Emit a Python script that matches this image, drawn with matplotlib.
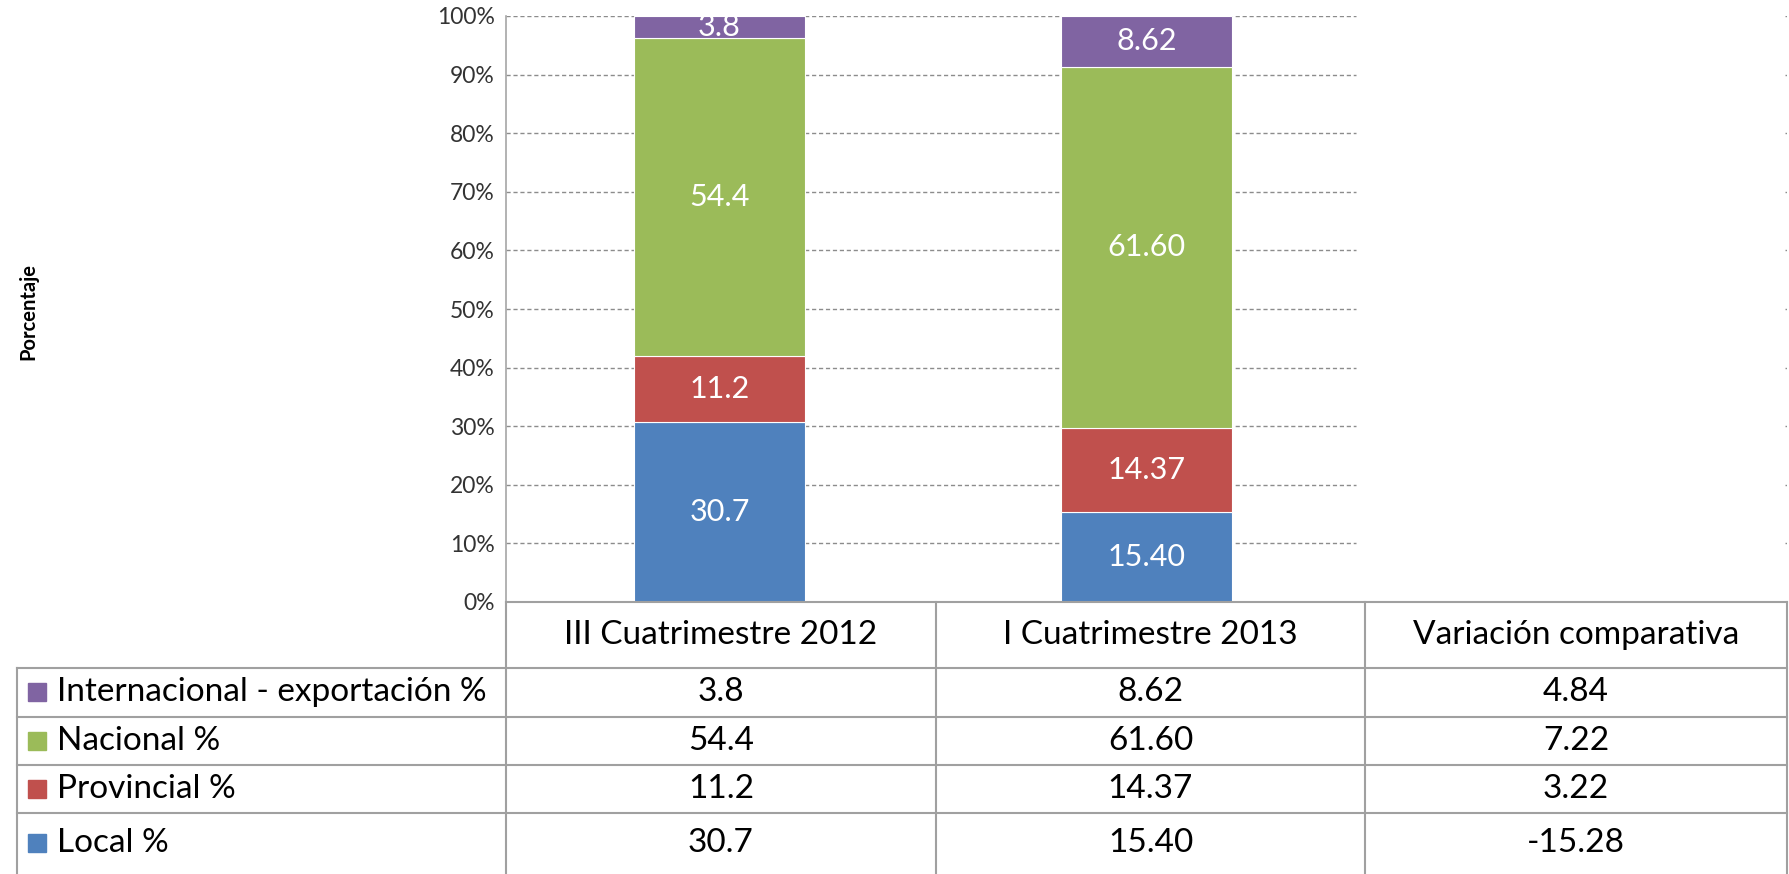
import matplotlib.pyplot as plt
from matplotlib.patches import Rectangle
from matplotlib.lines import Line2D

plt.rcParams['font.family'] = ['Lato', 'DejaVu Sans']

# data
periods = ["III Cuatrimestre 2012", "I Cuatrimestre 2013", "Variación comparativa"]
series = ["Local %", "Provincial %", "Nacional %", "Internacional - exportación %"]
local = [30.7, 15.40]
provincial = [11.2, 14.37]
nacional = [54.4, 61.60]
internacional = [3.8, 8.62]
variacion = [-15.28, 3.22, 7.22, 4.84]
decimals = [1, 2, 2]
colors = ["#4F81BD", "#C0504D", "#9BBB59", "#8064A2"]

W, H = 1790, 874
fig = plt.figure(figsize=(W / 100, H / 100), dpi=100)

def fx(px):
    return px / W

def fy(py):
    return 1 - py / H

# plot area (pixel layout)
x0, x1 = 506, 1787
ytop, ybot = 16, 602
ax = fig.add_axes([fx(x0), fy(ybot), fx(x1 - x0), (ybot - ytop) / H])
ax.set_xlim(-0.5, 2.5)
ax.set_ylim(0, 100)

grid_c = "#8C8C8C"
ticks = list(range(10, 101, 10))
ax.hlines(ticks, -0.5, 1.49, colors=grid_c, linestyles=(0, (3, 2)), linewidth=1)
ax.hlines(ticks, 2.495, 2.5, colors=grid_c, linewidth=1)

stack = [local, provincial, nacional, internacional]
bottom = [0, 0]
for vals, c in zip(stack, colors):
    tops = [min(b + v, 100) for b, v in zip(bottom, vals)]
    heights = [t - b for t, b in zip(tops, bottom)]
    ax.bar([0, 1], heights, bottom=bottom, width=0.4, color=c,
           edgecolor="white", linewidth=0.8, zorder=3)
    for i, (b, h, v) in enumerate(zip(bottom, heights, vals)):
        ax.text(i, b + h / 2, f"{v:.{decimals[i]}f}", ha="center", va="center",
                color="white", fontsize=22, zorder=4)
    bottom = tops

ax.set_yticks(range(0, 101, 10))
ax.set_yticklabels([f"{t}%" for t in range(0, 101, 10)], fontsize=16.5, color="#333333")
ax.set_xticks([])
ax.tick_params(axis="y", length=0, pad=8)
for s in ["top", "right", "bottom"]:
    ax.spines[s].set_visible(False)
ax.spines["left"].set_color("#A6A6A6")
ax.spines["left"].set_linewidth(1.2)

fig.text(fx(28), fy(312), "Porcentaje", rotation=90, ha="center", va="center",
         fontsize=14.5, fontweight="bold")

# data table below the plot
line_c = "#A0A0A0"
cols = [x0, 936, 1365, x1]
tab_left = 17
rows = [602, 668, 717, 765, 813]

def hline(y, xa, xb):
    fig.add_artist(Line2D([fx(xa), fx(xb)], [fy(y), fy(y)], color=line_c, linewidth=1.5))

def vline(x, ya, yb):
    fig.add_artist(Line2D([fx(x), fx(x)], [fy(ya), fy(yb)], color=line_c, linewidth=1.5))

hline(rows[0], x0, x1)
for y in rows[1:]:
    hline(y, tab_left, x1)
for x in cols:
    vline(x, rows[0], H)
vline(tab_left, rows[1], H)

for j, p in enumerate(periods):
    fig.text(fx((cols[j] + cols[j + 1]) / 2), fy((rows[0] + rows[1]) / 2), p,
             ha="center", va="center", fontsize=24)

# table rows, top row = last series
row_centers = [692, 741, 789, 843]
for k, yc in enumerate(row_centers):
    s = 3 - k
    fig.add_artist(Rectangle((fx(28), fy(yc + 9)), 18 / W, 18 / H,
                             transform=fig.transFigure, color=colors[s]))
    fig.text(fx(57), fy(yc), series[s], ha="left", va="center", fontsize=24)
    row = [local[0], local[1], variacion[0]]
    if s == 1:
        row = [provincial[0], provincial[1], variacion[1]]
    elif s == 2:
        row = [nacional[0], nacional[1], variacion[2]]
    elif s == 3:
        row = [internacional[0], internacional[1], variacion[3]]
    for j, v in enumerate(row):
        fig.text(fx((cols[j] + cols[j + 1]) / 2), fy(yc), f"{v:.{decimals[j]}f}",
                 ha="center", va="center", fontsize=24)

fig.savefig("out.png", dpi=100)
